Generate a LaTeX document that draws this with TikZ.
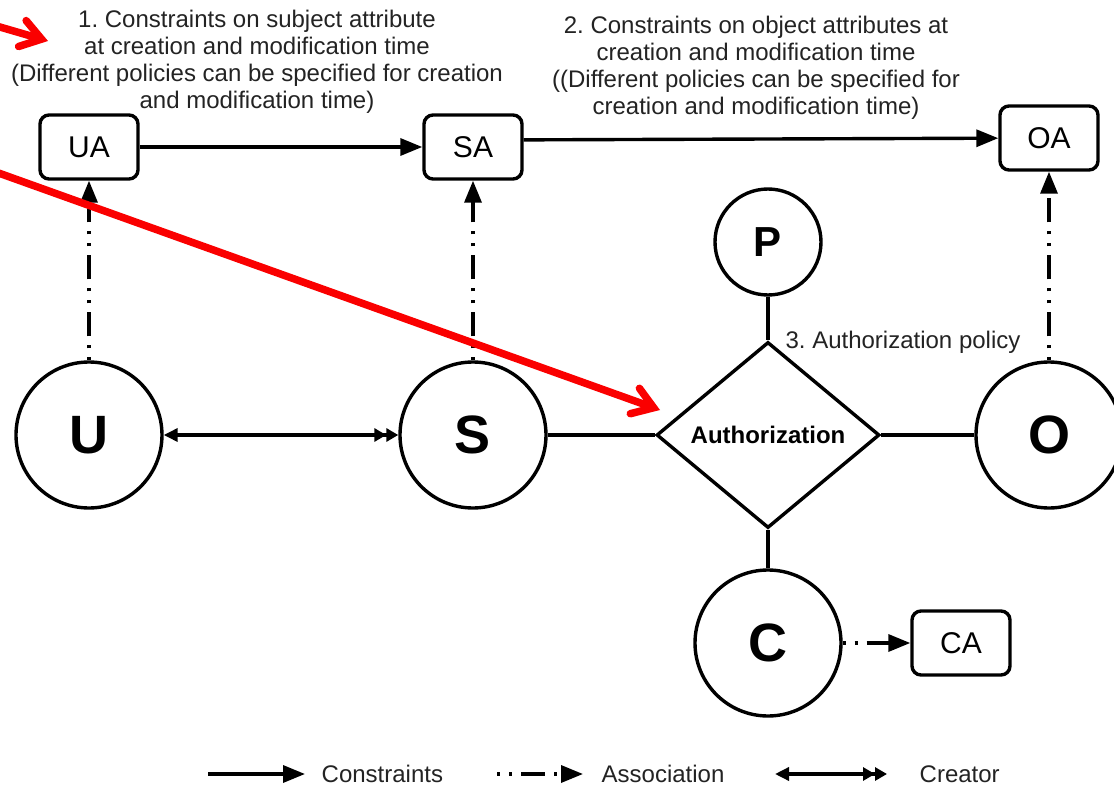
\documentclass[tikz,border=0pt]{standalone}
\usepackage{fontspec}
\setmainfont{Liberation Sans}
\usepackage{xcolor}
\usepackage{tikz}
\usetikzlibrary{positioning,arrows.meta,shapes.geometric}
\definecolor{markred}{RGB}{250, 0, 0}
\definecolor{notegray}{RGB}{35, 35, 35}
\frenchspacing

\begin{document}
\begin{tikzpicture}[
        x=1pt, y=1pt,
        on grid,
        line width=3.4pt,
        bigcirc/.style={circle, draw, minimum size=146pt, inner sep=0pt,
            font=\fontsize{54}{54}\selectfont\bfseries},
        smallcirc/.style={bigcirc, minimum size=106pt,
            font=\fontsize{42}{42}\selectfont\bfseries},
        attrbox/.style={rectangle, draw, rounded corners=9pt,
            minimum width=98pt, minimum height=64pt, inner sep=0pt,
            font=\fontsize{30}{30}\selectfont},
        authbox/.style={diamond, draw, minimum width=223pt, minimum height=186pt,
            inner sep=0pt, font=\fontsize{24}{24}\selectfont\bfseries},
        note/.style={align=center, text=notegray, font=\fontsize{24}{27}\selectfont},
        legtext/.style={anchor=west, inner sep=0pt, text=notegray,
            font=\fontsize{24}{24}\selectfont},
        constr/.style={-{Triangle[length=22pt,width=17pt]}},
        assoc/.style={-{Triangle[length=22pt,width=17pt]},
            dash pattern=on 3pt off 9pt on 3pt off 9pt on 24pt off 9pt},
        creator/.style={{Triangle[length=14pt,width=13pt]}-{Triangle[length=12pt,width=13pt]Triangle[length=12pt,width=13pt]}},
        markarrow/.style={markred, line width=7.5pt, line cap=round,
            -{Straight Barb[length=20pt,width=27pt,line cap=round]}}
    ]
        \path[use as bounding box, fill=white] (-89,-358) rectangle (1025,435);

        % Entities
        \node[bigcirc] (U) {U};
        \node[bigcirc, right=384pt of U] (S) {S};
        \node[authbox, right=295pt of S] (auth) {Authorization};
        \node[bigcirc, right=281pt of auth] (O) {O};
        \node[smallcirc, above=193pt of auth] (P) {P};
        \node[bigcirc, below=208pt of auth] (C) {C};

        % Attributes
        \node[attrbox, above=288pt of U] (UA) {UA};
        \node[attrbox, above=288pt of S] (SA) {SA};
        \node[attrbox, above=297pt of O] (OA) {OA};
        \node[attrbox, right=193pt of C] (CA) {CA};

        % Notes
        \node[note, above right=85pt and 168pt of UA] (note1)
            {1. Constraints on subject attribute\\at creation and modification time\\(Different policies can be specified for creation\\and modification time)};
        \node[note, above right=79pt and 283pt of SA] (note2)
            {2. Constraints on object attributes at\\creation and modification time\\((Different policies can be specified for\\creation and modification time)};
        \node[note, above right=93pt and 135pt of auth] (policy) {3. Authorization policy};

        % Constraints
        \draw[constr] (UA) -- (SA);
        \draw[constr] (SA.8) -- (OA);

        % Associations
        \draw[assoc] (U) -- (UA);
        \draw[assoc] (S) -- (SA);
        \draw[assoc] (O) -- (OA);
        \draw[assoc] (C) -- (CA);

        % Creator
        \draw[creator] (U) -- (S);

        % Authorization links
        \draw (S) -- (auth);
        \draw (auth) -- (O);
        \draw (P) -- (auth);
        \draw (auth) -- (C);

        % Legend
        \coordinate (consleg) at (119,-339);
        \node[legtext] (cons) at (231,-339) {Constraints};
        \draw[constr, shorten >=15pt] (consleg) -- (cons.west);

        \coordinate (assocleg) at (408,-339);
        \node[legtext] (assoc) at (511,-339) {Association};
        \draw[assoc, shorten >=17pt] (assocleg) -- (assoc.west);

        \coordinate (creatleg) at (686,-339);
        \node[legtext] (creat) at (829,-339) {Creator};
        \draw[creator, shorten >=31pt] (creatleg) -- (creat.west);

        % Red marks
        \coordinate (mark1 tail) at (-96,410);
        \coordinate (mark1 head) at (-41,394);
        \draw[markarrow] (mark1 tail) -- (mark1 head);
        \coordinate (mark2 tail) at (-96,264);
        \coordinate (mark2 head) at (571,25);
        \draw[markarrow] (mark2 tail) -- (mark2 head);

    \end{tikzpicture}
\end{document}
